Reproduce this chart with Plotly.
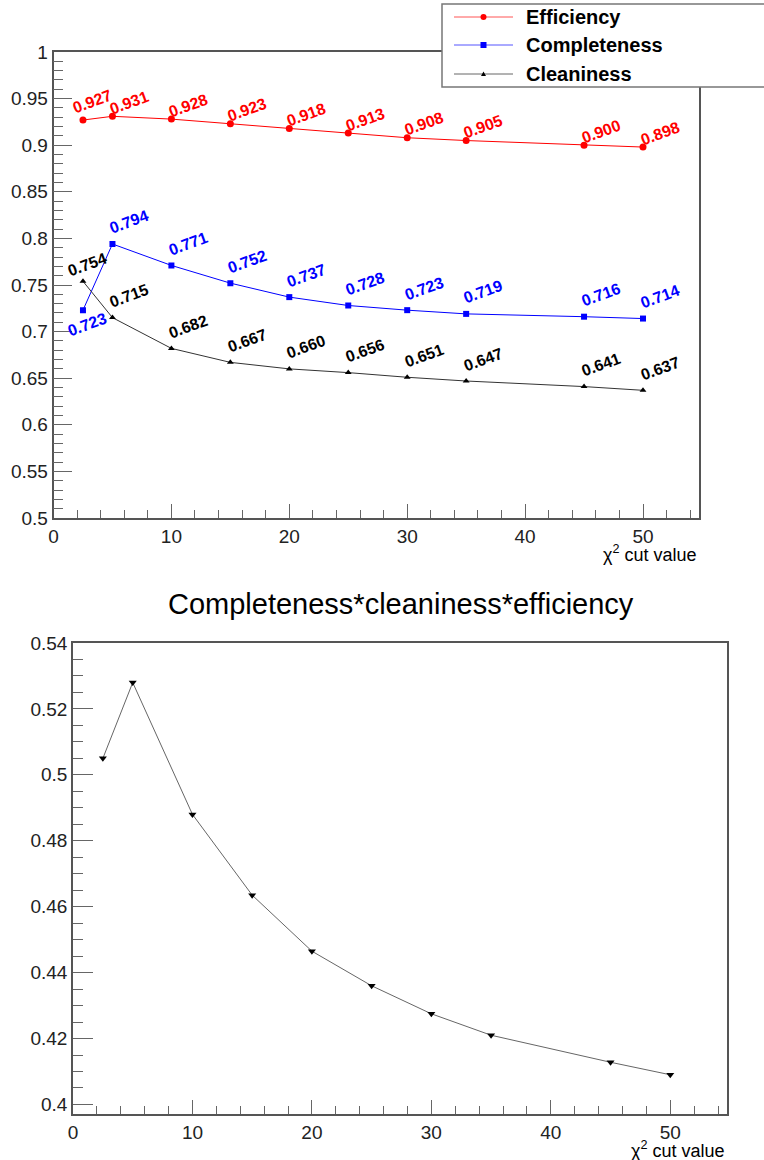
import plotly.graph_objects as go

# ---------------- data ----------------
chi2_cut = [2.5, 5, 10, 15, 20, 25, 30, 35, 45, 50]
efficiency = [0.927, 0.931, 0.928, 0.923, 0.918, 0.913, 0.908, 0.905, 0.900, 0.898]
completeness = [0.723, 0.794, 0.771, 0.752, 0.737, 0.728, 0.723, 0.719, 0.716, 0.714]
cleaniness = [0.754, 0.715, 0.682, 0.667, 0.660, 0.656, 0.651, 0.647, 0.641, 0.637]
product = [0.505, 0.528, 0.488, 0.4635, 0.4465, 0.436, 0.4275, 0.421, 0.4128, 0.409]

series_names = ["Efficiency", "Completeness", "Cleaniness"]
title2 = "Completeness*cleaniness*efficiency"
xtitle = "χ<sup>2</sup> cut value"

# ---------------- layout helpers ----------------
W, H = 764, 1160
FONT = "Liberation Sans, Arial, Helvetica, sans-serif"


def px(x):
    return x / W


def py(y):
    return 1 - y / H


fig = go.Figure()

series = [
    (efficiency, "red", "circle", 7, "red"),
    (completeness, "blue", "square", 6, "blue"),
    (cleaniness, "#333333", "triangle-up", 6, "black"),
]
for (vals, lc, sym, ms, mc), name in zip(series, series_names):
    fig.add_trace(go.Scatter(
        x=chi2_cut, y=vals, mode="lines+markers", name=name,
        line=dict(color=lc, width=1),
        marker=dict(symbol=sym, size=ms, color=mc),
        xaxis="x", yaxis="y", showlegend=False,
    ))

fig.add_trace(go.Scatter(
    x=chi2_cut, y=product, mode="lines+markers", name=title2,
    line=dict(color="#666666", width=1),
    marker=dict(symbol="triangle-down", size=7, color="black"),
    xaxis="x2", yaxis="y2", showlegend=False,
))

annotations = []
# value labels
shifts = [(17, 14), (17, 22), (17, 22)]
first_shift = [(9, 19), (4, -14), (4, 17)]
label_colors = ["red", "blue", "black"]
for si, (vals, *_rest) in enumerate(series):
    for i, (xv, yv) in enumerate(zip(chi2_cut, vals)):
        sx, sy = first_shift[si] if i == 0 else shifts[si]
        annotations.append(dict(
            x=xv, y=yv, xref="x", yref="y", text="<b>%.3f</b>" % yv,
            showarrow=False, textangle=-20, xshift=sx, yshift=sy,
            xanchor="center", yanchor="middle",
            font=dict(family=FONT, size=16, color=label_colors[si]),
        ))

# axis titles
annotations.append(dict(x=px(699), y=py(553), xref="paper", yref="paper",
                        text=xtitle, showarrow=False, xanchor="right", yanchor="middle",
                        font=dict(family=FONT, size=18, color="black")))
annotations.append(dict(x=px(727), y=py(1149), xref="paper", yref="paper",
                        text=xtitle, showarrow=False, xanchor="right", yanchor="middle",
                        font=dict(family=FONT, size=18, color="black")))
# bottom title
annotations.append(dict(x=px(401), y=py(604), xref="paper", yref="paper",
                        text=title2, showarrow=False, xanchor="center", yanchor="middle",
                        font=dict(family=FONT, size=29, color="black")))

# manual legend
shapes = [dict(type="rect", xref="paper", yref="paper",
               x0=px(442), x1=px(770), y0=py(87), y1=py(4),
               line=dict(color="#777777", width=1.5), fillcolor="white", layer="above")]
rows = [17, 45, 74]
leg_line = ["#ff5555", "#5555ff", "#666666"]
leg_mark = ["red", "blue", "black"]
for r, name, lc, mc, k in zip(rows, series_names, leg_line, leg_mark, range(3)):
    shapes.append(dict(type="line", xref="paper", yref="paper",
                       x0=px(454), x1=px(513), y0=py(r), y1=py(r),
                       line=dict(color=lc, width=1), layer="above"))
    if k == 0:
        shapes.append(dict(type="circle", xref="paper", yref="paper",
                           x0=px(480.5), x1=px(486.5), y0=py(r + 3), y1=py(r - 3),
                           line=dict(color=mc, width=0), fillcolor=mc, layer="above"))
    elif k == 1:
        shapes.append(dict(type="rect", xref="paper", yref="paper",
                           x0=px(480.5), x1=px(486.5), y0=py(r + 3), y1=py(r - 3),
                           line=dict(color=mc, width=0), fillcolor=mc, layer="above"))
    else:
        path = "M %f %f L %f %f L %f %f Z" % (px(481), py(r + 2), px(486), py(r + 2), px(483.5), py(r - 2.5))
        shapes.append(dict(type="path", xref="paper", yref="paper", path=path,
                           line=dict(color=mc, width=0), fillcolor=mc, layer="above"))
    annotations.append(dict(x=px(524), y=py(r), xref="paper", yref="paper",
                            text="<b>%s</b>" % name, showarrow=False,
                            xanchor="left", yanchor="middle",
                            font=dict(family=FONT, size=20, color="black")))

axis_common = dict(showgrid=False, zeroline=False, showline=True, linecolor="#555555",
                   linewidth=1.5, mirror=True, ticks="inside", tickcolor="#666666",
                   tickwidth=1, automargin=False,
                   tickfont=dict(family=FONT, size=19, color="#222222"))

fig.update_layout(
    width=W, height=H, margin=dict(l=0, r=0, t=0, b=0, pad=0, autoexpand=False),
    paper_bgcolor="white", plot_bgcolor="white", showlegend=False,
    xaxis=dict(domain=[px(53.5), px(699)], range=[0, 54.75], anchor="y",
               tick0=0, dtick=10, ticklen=14,
               minor=dict(ticks="inside", dtick=2, ticklen=8, tickcolor="#666666"),
               **axis_common),
    yaxis=dict(domain=[py(518), py(52)], range=[0.5, 1.0], anchor="x",
               tick0=0.5, dtick=0.05, ticklen=19,
               minor=dict(ticks="inside", dtick=0.01, ticklen=10, tickcolor="#666666"),
               **axis_common),
    xaxis2=dict(domain=[px(73), px(727)], range=[0, 54.75], anchor="y2",
                tick0=0, dtick=10, ticklen=14,
                minor=dict(ticks="inside", dtick=2, ticklen=8, tickcolor="#666666"),
                **axis_common),
    yaxis2=dict(domain=[py(1114), py(643)], range=[0.3971, 0.540], anchor="x2",
                tick0=0.4, dtick=0.02, ticklen=20,
                minor=dict(ticks="inside", dtick=0.005, ticklen=10, tickcolor="#666666"),
                **axis_common),
    annotations=annotations,
    shapes=shapes,
)

fig.write_html(
    "out.html",
    config={"displayModeBar": False},
    post_script="document.body.style.margin='0';document.body.style.padding='0';"
                "document.documentElement.style.overflow='hidden';",
)
